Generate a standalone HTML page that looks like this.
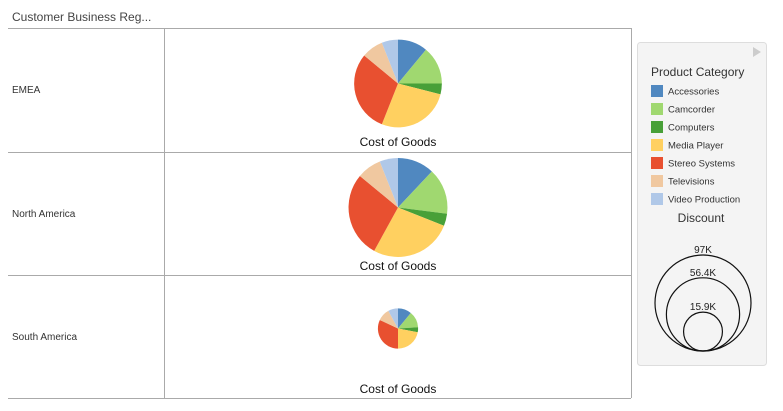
<!DOCTYPE html>
<html><head><meta charset="utf-8"><style>
body{margin:0;width:783px;height:411px;background:#fff;font-family:"Liberation Sans",sans-serif;overflow:hidden;position:relative}
.t{position:absolute;font-size:11px;color:#333}
</style></head><body>
<div class="t" style="left:12px;top:10px;font-size:12px;color:#444">Customer Business Reg...</div>
<svg width="783" height="411" style="position:absolute;left:0;top:0" id="svg">
<g stroke="#aaa" fill="none">
<line x1="8" y1="28.5" x2="631" y2="28.5"/><line x1="8" y1="152.5" x2="631" y2="152.5"/>
<line x1="8" y1="275.5" x2="631" y2="275.5"/><line x1="8" y1="398.5" x2="631" y2="398.5"/>
<line x1="164.5" y1="28" x2="164.5" y2="398"/><line x1="631.5" y1="28" x2="631.5" y2="398"/>
</g>
<text x="12" y="93" font-size="10" fill="#333">EMEA</text>
<text x="12" y="217" font-size="10" fill="#333">North America</text>
<text x="12" y="340" font-size="10" fill="#333">South America</text>
<g id="pies"></g>
<rect x="637.5" y="42.5" width="129" height="323" rx="3" fill="#f4f4f4" stroke="#ddd"/>
<polygon points="753,47 761,52 753,57" fill="#ccc"/>
<text x="651" y="76" font-size="12" fill="#333">Product Category</text>
<g id="leg"></g>
<text x="701" y="222" font-size="12" fill="#333" text-anchor="middle">Discount</text>
<g id="sizeleg" fill="none" stroke="#111"></g>
</svg>
<script>
const categories=["Accessories","Camcorder","Computers","Media Player","Stereo Systems","Televisions","Video Production"];
const colors=["#5088c0","#a0d870","#48a038","#ffd060","#e85030","#f0c8a0","#b0c8e8"];
const regions=["EMEA","North America","South America"];
const discount=[81,103,17];
const emea=[11,14,4,27,30,8,6];
const northAmerica=[12,15,4,27,28,8,6];
const southAmerica=[11,13,4,22,32,10,8];
const sizeTicks=[97,56.4,15.9];
const sizeLabels=["97K","56.4K","15.9K"];
const NS="http://www.w3.org/2000/svg";
const rScale=v=>48*Math.sqrt(v/97);
const rowY=[28,152,275],rowH=123,cx=398;
const series=[emea,northAmerica,southAmerica];
const pies=document.getElementById('pies');
series.forEach((vals,ri)=>{
  const r=rScale(discount[ri]);
  const cy=rowY[ri]+rowH/2-(ri==2?8:6);
  const tot=vals.reduce((a,b)=>a+b,0);let a=-Math.PI/2;
  vals.forEach((v,i)=>{
    const b=a+v/tot*2*Math.PI;
    const p=document.createElementNS(NS,'path');
    const x1=cx+r*Math.cos(a),y1=cy+r*Math.sin(a),x2=cx+r*Math.cos(b),y2=cy+r*Math.sin(b);
    p.setAttribute('d',`M${cx},${cy}L${x1},${y1}A${r},${r} 0 ${b-a>Math.PI?1:0} 1 ${x2},${y2}Z`);
    p.setAttribute('fill',colors[i]);
    
    
    pies.appendChild(p);a=b;
  });
  const t=document.createElementNS(NS,'text');
  t.setAttribute('x',cx);t.setAttribute('y',rowY[ri]+rowH-5);t.setAttribute('text-anchor','middle');
  t.setAttribute('font-size','12');t.setAttribute('fill','#111');t.textContent='Cost of Goods';
  
  
  pies.appendChild(t);
});
const leg=document.getElementById('leg');
categories.forEach((c,i)=>{
  const y=85+i*18;
  const r=document.createElementNS(NS,'rect');
  r.setAttribute('x',651);r.setAttribute('y',y);r.setAttribute('width',12);r.setAttribute('height',12);r.setAttribute('fill',colors[i]);
  
  
  leg.appendChild(r);
  const t=document.createElementNS(NS,'text');
  t.setAttribute('x',668);t.setAttribute('y',y+9.5);t.setAttribute('font-size','9.5');t.setAttribute('fill','#333');t.textContent=c;
  
  
  leg.appendChild(t);
});
const sl=document.getElementById('sizeleg');
sizeTicks.forEach((v,i)=>{
  const r=rScale(v);
  const c=document.createElementNS(NS,'circle');
  c.setAttribute('cx',703);c.setAttribute('cy',351-r);c.setAttribute('r',r);c.setAttribute('stroke-width','1.2');
  
  
  sl.appendChild(c);
  const t=document.createElementNS(NS,'text');
  t.setAttribute('x',703);t.setAttribute('y',351-2*r-2);t.setAttribute('text-anchor','middle');t.setAttribute('font-size','10');
  t.setAttribute('fill','#222');t.setAttribute('stroke','none');t.textContent=sizeLabels[i];
  
  
  sl.appendChild(t);
});
</script>
</body></html>
